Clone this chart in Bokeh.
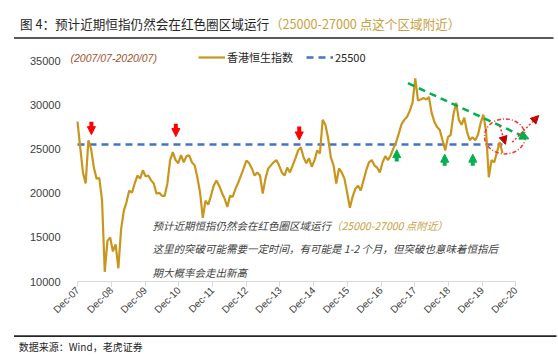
import math
from bokeh.plotting import figure
from bokeh.models import (Range1d, FixedTicker, CustomJSTickFormatter, Label, Arrow,
                          NormalHead, Legend, LegendItem)
from bokeh.layouts import column
from bokeh.embed import file_html
from bokeh.resources import INLINE
from bokeh.core.properties import value

# ---------------- data (monthly) ----------------
hsi = [28100, 25200, 22350, 21100, 26000, 25000, 22900, 21650, 21700, 19250,
       11100, 14600, 15000, 13400, 14200, 11500, 15900, 18000, 19000, 20300,
       20050, 21100, 22000, 21650, 22600, 21900, 22000, 21450, 21100, 19950,
       20050, 19700, 19700, 21100, 23750, 24650, 23750, 23400, 24300, 23500,
       24200, 24300, 23500, 23150, 21800, 20050, 17200, 19150, 18700, 19700,
       20850, 21450, 20850, 20050, 19400, 18450, 19700, 19600, 20500, 21200,
       22000, 22800, 23700, 23400, 22800, 22000, 22350, 22000, 19950, 21650,
       22800, 23150, 23500, 23750, 23150, 22350, 22000, 22900, 22350, 23150,
       23950, 24850, 25200, 24050, 23400, 23950, 23000, 23700, 24850, 24500,
       28300, 27750, 26250, 24050, 23150, 21100, 22800, 22350, 21650, 20050,
       18350, 19600, 20500, 20850, 20300, 21450, 22600, 23500, 23750, 23150,
       22900, 22350, 23500, 24200, 23750, 24300, 25100, 25800, 26800, 27850,
       28300, 28650, 29350, 30250, 33000, 30500, 30600, 30800, 30600, 30900,
       29100, 28100, 27500, 27150, 26000, 24850, 26350, 26600, 28900, 30250,
       28300, 27750, 28550, 26950, 26000, 26350, 26000, 26600, 27950, 28900,
       26950, 21800, 23750, 23500, 24650, 25800, 24550]
months = list(range(len(hsi)))
ref_level = 25500
y_ticks = [10000, 15000, 20000, 25000, 30000, 35000]
x_tick_labels = ["Dec-07", "Dec-08", "Dec-09", "Dec-10", "Dec-11", "Dec-12", "Dec-13",
                 "Dec-14", "Dec-15", "Dec-16", "Dec-17", "Dec-18", "Dec-19", "Dec-20"]

# annotation anchors (month index, index level)
red_down_x = [5.1, 36.1, 81.4]
red_down_y0 = [28100, 27850, 27550]
red_down_y1 = [26630, 26410, 26030]
green_up_x = [117.2, 134.8, 145.1]
green_up_y0 = [23580, 23120, 23120]
green_up_y1 = [24930, 24420, 24420]
trend_line = [(121.3, 32450), (165.7, 26150)]
circle_center = (156.9, 26430)
circle_size = (15.0, 3970)
red_arrows = [((155.0, 27650), (157.1, 25530)), ((159.6, 25760), (169.3, 28790))]

CJK = "Noto Sans CJK SC"
GOLD_LINE = "#C8961C"
GOLD_TEXT = "#C9A040"
DARK = "#404040"

# ---------------- main chart ----------------
PX0, PY0, SX, SY = 77.0, 280.7, 2.724, 0.00882   # pixel anchors & scales for text placement
FRAME_L = 60
FRAME_T = 46


def px_x(px):
    return (px - PX0) / SX


def px_y(py):
    return 10000 + (PY0 - py) / SY


main = figure(width=558, height=288, title=None,
              x_range=Range1d(px_x(FRAME_L), px_x(552)), y_range=Range1d(10000, px_y(FRAME_T)),
              output_backend="svg", toolbar_location=None,
              min_border_left=FRAME_L, min_border_right=6, min_border_top=FRAME_T - 45,
              min_border_bottom=52)
main.frame_align = False
main.outline_line_color = None
main.grid.visible = False
main.background_fill_color = "white"

r_ref = main.line([months[0], months[-1]], [ref_level, ref_level], line_color="#4472C4",
                  line_width=2.5, line_dash="7 5")
r_hsi = main.line(months, hsi, line_color=GOLD_LINE, line_width=2.2)

# axes
main.yaxis.ticker = FixedTicker(ticks=y_ticks)
main.yaxis.axis_line_color = None
main.yaxis.major_tick_line_color = None
main.yaxis.minor_tick_line_color = None
main.yaxis.major_label_standoff = -6
main.yaxis.major_label_text_font = "Liberation Sans"
main.yaxis.major_label_text_font_size = "11px"
main.yaxis.major_label_text_color = DARK

x_ticks = [0.1 + 12.37 * i for i in range(len(x_tick_labels))]
main.xaxis.ticker = FixedTicker(ticks=x_ticks)
main.xaxis.formatter = CustomJSTickFormatter(args=dict(labels=x_tick_labels),
                                             code="return labels[index];")
main.xaxis.bounds = (0, x_ticks[-1])
main.xaxis.axis_line_color = "#D9D9D9"
main.xaxis.major_tick_line_color = "#D9D9D9"
main.xaxis.major_tick_in = 0
main.xaxis.major_tick_out = 5
main.xaxis.minor_tick_line_color = None
main.xaxis.major_label_orientation = math.pi / 4
main.xaxis.major_label_standoff = 2
main.xaxis.major_label_text_font = "Liberation Sans"
main.xaxis.major_label_text_font_size = "10px"
main.xaxis.major_label_text_color = DARK

# legend
legend = Legend(items=[LegendItem(label="香港恒生指数", renderers=[r_hsi]),
                       LegendItem(label="25500", renderers=[r_ref])],
                orientation="horizontal", location=(198 - FRAME_L, PY0 - 65),
                border_line_color=None, background_fill_alpha=0, padding=0, margin=0,
                spacing=13, label_standoff=2, glyph_width=27, glyph_height=16,
                label_height=16, label_text_font=CJK, label_text_font_size="11px",
                label_text_color="#262626", label_text_baseline="middle")
main.add_layout(legend)

# subtitle
main.add_layout(Label(x=px_x(70), y=px_y(57), text="(2007/07-2020/07)", text_font="Liberation Sans",
                      text_font_size="10.5px", text_font_style="italic", text_color="#A0522D",
                      text_baseline="middle"))

# annotation text
ann_lines = ["预计近期恒指仍然会在红色圈区域运行",
             "这里的突破可能需要一定时间，有可能是 1-2 个月，但突破也意味着恒指后",
             "期大概率会走出新高"]
ann_gold = "（25000-27000 点附近）"
for txt, py in zip(ann_lines, [225, 248, 272]):
    main.add_layout(Label(x=px_x(152), y=px_y(py), text=txt, text_font=CJK,
                          text_font_size="10.5px", text_font_style="italic", text_color=DARK,
                          text_baseline="middle"))
main.add_layout(Label(x=px_x(330.5), y=px_y(225), text=ann_gold, text_font=CJK,
                      text_font_size="10.5px", text_font_style="italic", text_color=GOLD_TEXT,
                      text_baseline="middle"))

# red down arrows
for x, y0, y1 in zip(red_down_x, red_down_y0, red_down_y1):
    main.add_layout(Arrow(end=NormalHead(size=8, fill_color="#FF0000", line_color="#FF0000"),
                          x_start=x, y_start=y0, x_end=x, y_end=y1,
                          line_color="#FF0000", line_width=4))
# green up arrows
for x, y0, y1 in zip(green_up_x, green_up_y0, green_up_y1):
    main.add_layout(Arrow(end=NormalHead(size=8, fill_color="#00B050", line_color="#00B050"),
                          x_start=x, y_start=y0, x_end=x, y_end=y1,
                          line_color="#00B050", line_width=4))
# green dashed trend arrow
(tx0, ty0), (tx1, ty1) = trend_line
main.add_layout(Arrow(end=NormalHead(size=9, fill_color="#00B050", line_color="#00B050"),
                      x_start=tx0, y_start=ty0, x_end=tx1, y_end=ty1,
                      line_color="#00B050", line_width=2.5, line_dash="7 5"))
# red dotted circle
main.ellipse(x=[circle_center[0]], y=[circle_center[1]], width=circle_size[0],
             height=circle_size[1], fill_color=None, line_color="#FF3030",
             line_width=1.5, line_dash="4 2 1 2")
for (ax0, ay0), (ax1, ay1) in red_arrows:
    main.add_layout(Arrow(end=NormalHead(size=8, fill_color="#C00000", line_color="#C00000"),
                          x_start=ax0, y_start=ay0, x_end=ax1, y_end=ay1,
                          line_color="#FF3030", line_width=1.5, line_dash="2 2"))

# ---------------- header ----------------
hdr = figure(width=558, height=45, title=None, x_range=Range1d(0, 558), y_range=Range1d(45, 0),
             output_backend="svg", toolbar_location=None, min_border=0,
             x_axis_location=None, y_axis_location=None)
hdr.frame_align = False
hdr.grid.visible = False
hdr.outline_line_color = None
hdr.text(x=[19.5], y=[23], text=["图 4：预计近期恒指仍然会在红色圈区域运行"], text_font=value(CJK),
         text_font_size="12.6px", text_color="#262626", text_baseline="middle")
hdr.text(x=[269.5], y=[23], text=["（25000-27000 点这个区域附近）"], text_font=value(CJK),
         text_font_size="12.6px", text_color=GOLD_TEXT, text_baseline="middle")
hdr.line([13.5, 553], [37.5, 37.5], line_color="#595959", line_width=2)

# ---------------- footer ----------------
ftr = figure(width=558, height=22, title=None, x_range=Range1d(0, 558), y_range=Range1d(22, 0),
             output_backend="svg", toolbar_location=None, min_border=0,
             x_axis_location=None, y_axis_location=None)
ftr.frame_align = False
ftr.grid.visible = False
ftr.outline_line_color = None
ftr.line([13.5, 556], [2.7, 2.7], line_color="#262626", line_width=1.8)
ftr.text(x=[18.3], y=[12.5], text=["数据来源：Wind，老虎证券"], text_font=value(CJK),
         text_font_size="10px", text_color="#262626", text_baseline="middle")

layout = column(hdr, main, ftr, spacing=0)
open("out.html", "w").write(file_html(layout, INLINE))
